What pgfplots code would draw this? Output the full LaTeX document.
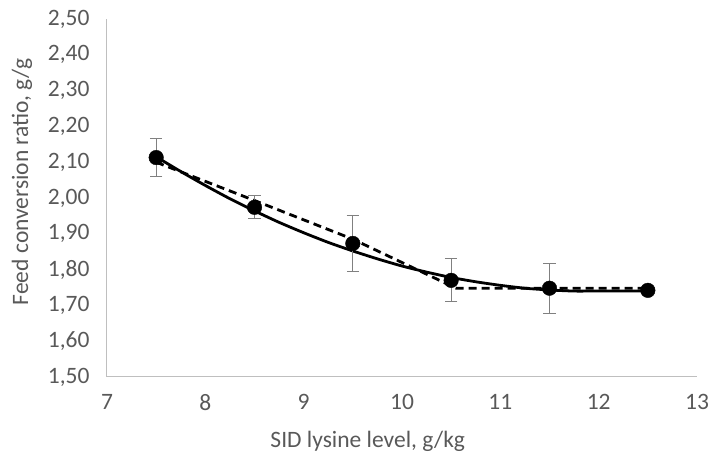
\documentclass[border=0pt]{standalone}
\usepackage{pgfplots}
\pgfplotsset{compat=1.18}
\usepackage{fontspec}
\setmainfont{Carlito}
\definecolor{txt}{RGB}{89,89,89}
\definecolor{axc}{RGB}{191,191,191}
\definecolor{errc}{RGB}{128,128,128}
\begin{document}
\begin{tikzpicture}
\useasboundingbox (-107pt,-83pt) rectangle (605pt,377pt);
\begin{axis}[
  at={(0,0)}, anchor=south west,
  scale only axis, width=590pt, height=358pt,
  xmin=7, xmax=13, ymin=1.5, ymax=2.5,
  axis lines*=left,
  axis line style={axc, line width=1pt},
  xtick={7,8,9,10,11,12,13},
  ytick={1.5,1.6,1.7,1.8,1.9,2.0,2.1,2.2,2.3,2.4,2.5},
  major tick length=0pt,
  /pgf/number format/assume math mode=true,
  tick label style={font=\fontsize{23.5}{26}\selectfont, text=txt},
  xticklabel style={yshift=-14pt},
  yticklabel style={xshift=-14pt, /pgf/number format/.cd, fixed, fixed zerofill, precision=2, use comma},
  xlabel={SID lysine level, g/kg},
  ylabel={Feed conversion ratio, g/g},
  label style={font=\fontsize{23.5}{26}\selectfont, text=txt},
  xlabel style={at={(axis description cs:0.442,-0.179)}, anchor=center},
  ylabel style={at={(axis description cs:-0.144,0.545)}, anchor=center, rotate=0},
  clip=false,
]
% solid fitted curve (quadratic-plateau)
\addplot[black, line width=2.8pt, smooth, tension=0.4] coordinates {
(7.5,2.115) (7.75,2.074) (8.0,2.035) (8.25,1.998) (8.5,1.964) (8.75,1.932)
(9.0,1.903) (9.25,1.876) (9.5,1.852) (9.75,1.830) (10.0,1.810) (10.25,1.793)
(10.5,1.778) (10.75,1.766) (11.0,1.756) (11.25,1.748) (11.5,1.743) (11.75,1.740)
(11.9,1.740) (12.5,1.740)};
% dashed broken-line fit
\addplot[black, line width=2.8pt, dash pattern=on 8pt off 5pt] coordinates {
(7.5,2.100) (8.5,1.993) (9.5,1.885) (10.55,1.748) (12.5,1.748)};
% observed means with error bars
\addplot[only marks, mark=*, mark size=7.3pt, black,
  error bars/.cd, y dir=both, y explicit,
  error bar style={errc, line width=1pt},
  error mark options={errc, rotate=90, mark size=6.3pt, line width=1pt}]
  coordinates {
(7.5,2.113) +- (0,0.052)
(8.5,1.974) +- (0,0.032)
(9.5,1.873) +- (0,0.077)
(10.5,1.770) +- (0,0.060)
(11.5,1.748) +- (0,0.070)
(12.5,1.742) +- (0,0.0)
};
\end{axis}
\end{tikzpicture}
\end{document}
